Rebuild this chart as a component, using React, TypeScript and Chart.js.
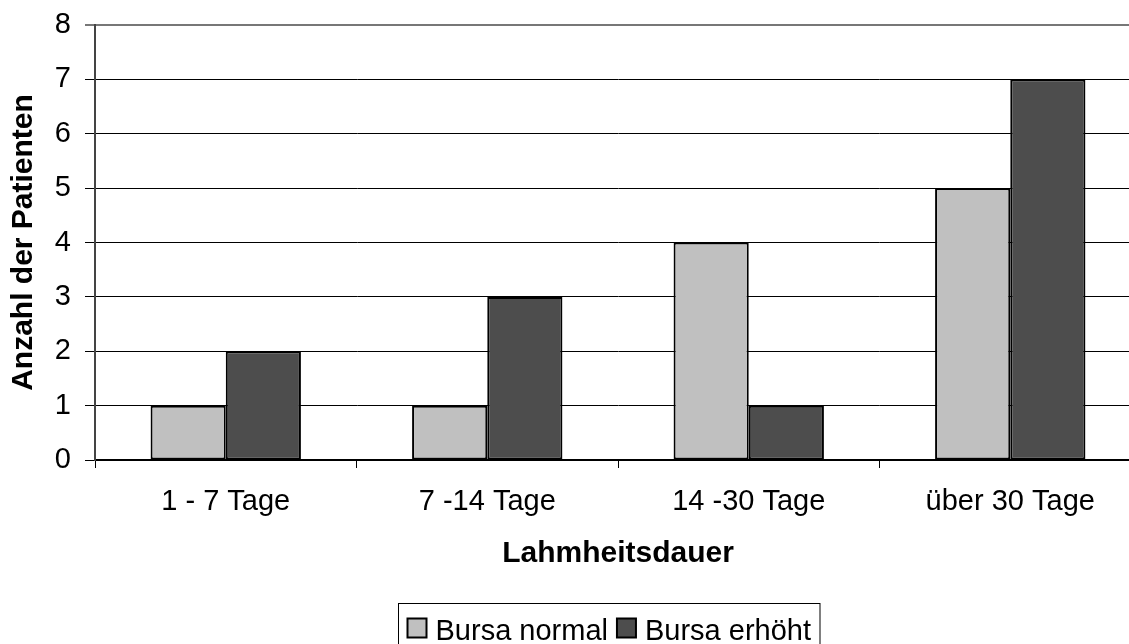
import React, { useEffect, useRef } from "react";
import { Chart, registerables } from "chart.js";

Chart.register(...registerables);

const categories = ["1 - 7 Tage", "7 -14 Tage", "14 -30 Tage", "über 30 Tage"];
const seriesNames = ["Bursa normal", "Bursa erhöht"];
const bursaNormal = [1, 1, 4, 5];
const bursaErhoeht = [2, 3, 1, 7];
const yMin = 0;
const yMax = 8;
const yStep = 1;
const xTitle = "Lahmheitsdauer";
const yTitle = "Anzahl der Patienten";
const seriesColors = ["#C0C0C0", "#4D4D4D"];

const FONT = '"Liberation Sans", Arial, Helvetica, sans-serif';

const boxedLegend = {
  id: "boxedLegend",
  afterDraw(chart: any) {
    const ctx = chart.ctx as CanvasRenderingContext2D;
    const area = chart.chartArea;
    ctx.save();
    ctx.font = `29px ${FONT}`;
    const sq = 19;
    const gapSqText = 9;
    const gapItems = 9;
    const padX = 9;
    const items = chart.data.datasets.map((ds: any) => ({
      label: ds.label as string,
      color: ds.backgroundColor as string,
      w: ctx.measureText(ds.label).width,
    }));
    const total =
      padX * 2 +
      items.reduce((s: number, it: any) => s + sq + gapSqText + it.w, 0) +
      gapItems * (items.length - 1);
    const boxLeft = Math.round(chart.width / 2 - total / 2) + 0.5;
    const boxTop = Math.round(area.bottom + 143) + 0.5;
    ctx.strokeStyle = "#000";
    ctx.lineWidth = 1;
    ctx.strokeRect(boxLeft, boxTop, total, 48);
    let x = boxLeft + padX;
    const sqTop = boxTop + 15;
    items.forEach((it: any) => {
      ctx.fillStyle = it.color;
      ctx.fillRect(x, sqTop, sq, sq);
      ctx.lineWidth = 2;
      ctx.strokeRect(x, sqTop, sq, sq);
      x += sq + gapSqText;
      ctx.fillStyle = "#000";
      ctx.textBaseline = "alphabetic";
      ctx.textAlign = "left";
      ctx.fillText(it.label, x, boxTop + 36);
      x += it.w + gapItems;
    });
    ctx.restore();
  },
};

export default function App() {
  const ref = useRef<HTMLCanvasElement | null>(null);

  useEffect(() => {
    document.body.style.margin = "0";
    const canvas = ref.current!;
    const chart = new Chart(canvas, {
      type: "bar",
      data: {
        labels: categories,
        datasets: [
          {
            label: seriesNames[0],
            data: bursaNormal,
            backgroundColor: seriesColors[0],
            borderColor: "#000",
            borderWidth: 2,
            borderSkipped: false,
            barPercentage: 1,
            categoryPercentage: 0.575,
          },
          {
            label: seriesNames[1],
            data: bursaErhoeht,
            backgroundColor: seriesColors[1],
            borderColor: "#000",
            borderWidth: 2,
            borderSkipped: false,
            barPercentage: 1,
            categoryPercentage: 0.575,
          },
        ],
      },
      options: {
        responsive: false,
        animation: false,
        devicePixelRatio: 1,
        layout: { padding: { top: 25, right: 76, left: 0, bottom: 0 } },
        plugins: {
          legend: { display: false },
          tooltip: { enabled: false },
        },
        scales: {
          x: {
            grid: {
              display: true,
              drawOnChartArea: false,
              drawTicks: true,
              tickLength: 8,
              color: "#000",
              offset: true,
            },
            border: { display: true, color: "#000", width: 2 },
            ticks: {
              color: "#000",
              font: { family: FONT, size: 29 },
              padding: 17,
              maxRotation: 0,
            },
            title: {
              display: true,
              text: xTitle,
              color: "#000",
              font: { family: FONT, size: 30, weight: "bold" },
              padding: { top: 0, bottom: 72 },
            },
            afterFit(scale: any) {
              scale.height = 184;
              scale.paddingLeft = 0;
              scale.paddingRight = 0;
            },
          },
          y: {
            min: yMin,
            max: yMax,
            ticks: {
              stepSize: yStep,
              color: "#000",
              font: { family: FONT, size: 29 },
              padding: 14,
            },
            grid: {
              color: (c: any) => (c.tick && c.tick.value === yMax ? "#777" : "#000"),
              lineWidth: (c: any) => (c.tick && c.tick.value === yMax ? 2 : 1),
              tickLength: 10,
              drawTicks: true,
            },
            border: { display: true, color: "#444", width: 2 },
            title: {
              display: true,
              text: yTitle,
              color: "#000",
              font: { family: FONT, size: 30, weight: "bold" },
              padding: { top: 6, bottom: 0 },
            },
            afterFit(scale: any) {
              scale.width = 95;
              scale.paddingTop = 0;
              scale.paddingBottom = 0;
            },
          },
        },
      },
      plugins: [boxedLegend],
    });
    return () => chart.destroy();
  }, []);

  return (
    <div style={{ width: 1129, height: 644, overflow: "hidden", position: "relative" }}>
      <canvas ref={ref} width={1217} height={644} style={{ display: "block" }} />
    </div>
  );
}
